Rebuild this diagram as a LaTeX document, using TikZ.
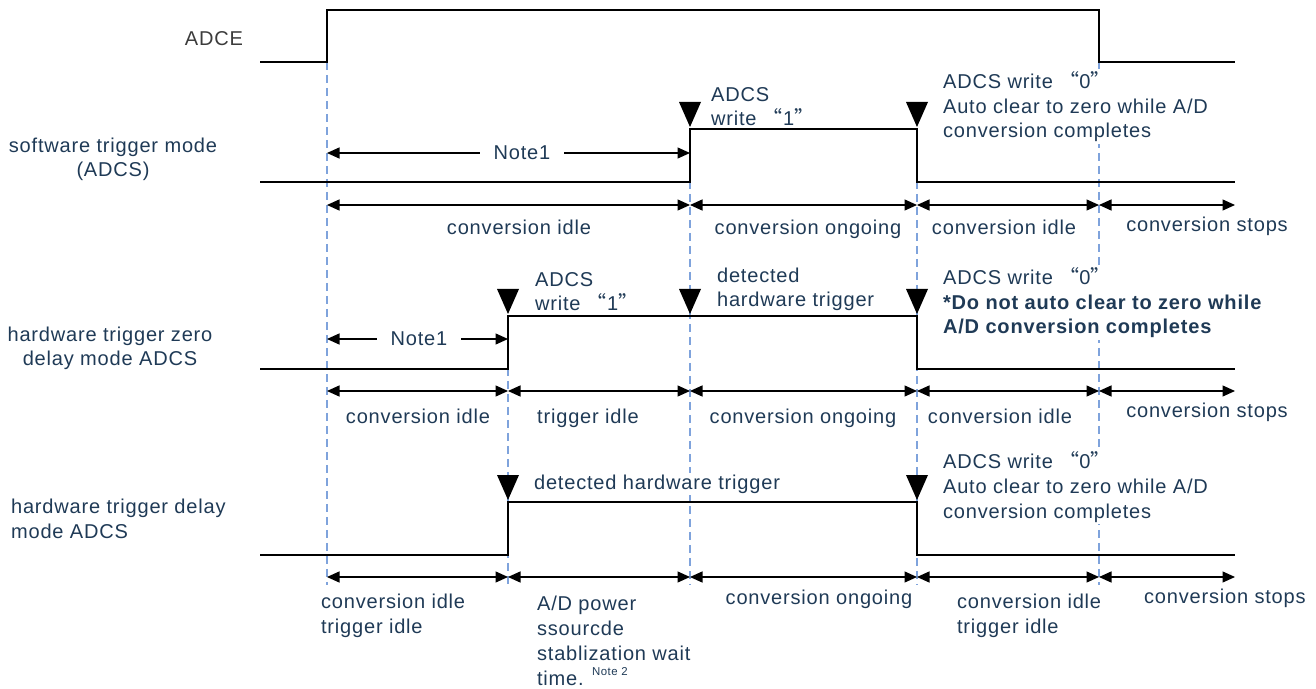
\documentclass[tikz,border=0pt]{standalone}
\usepackage{fontspec}
\setmainfont{Liberation Sans}[LetterSpace=4]
\newfontfamily\cjk{Noto Sans CJK SC}
\usetikzlibrary{arrows.meta}
\definecolor{ink}{HTML}{1F3A56}
\definecolor{guide}{HTML}{7FA3DC}
\definecolor{tag}{HTML}{3C3C3C}
\newcommand{\quoted}[1]{{\cjk “}#1{\cjk ”}}

\begin{document}
\begin{tikzpicture}[x=0.02cm, y=-0.02cm,
    >={Triangle[length=0.25cm,width=0.22cm]},
    sig/.style={line width=1.4pt, black},
    guideline/.style={guide, line width=0.6pt, dash pattern=on 0.16cm off 0.1cm},
    span/.style={line width=0.7pt, <->},
    lbl/.style={text=ink, font=\fontsize{11.4pt}{14.2pt}\selectfont, inner sep=1pt},
    note/.style={lbl, align=left, anchor=base west, fill=white},
    marker/.style={fill=black},
]
\useasboundingbox (0,0) rectangle (1316,689);

% guide lines
\draw[guideline] (327,62) -- (327,585);
\draw[guideline] (508,316) -- (508,585);
\draw[guideline] (690,129) -- (690,585);
\draw[guideline] (917,129) -- (917,585);
\draw[guideline] (1099,62) -- (1099,585);

% signal names (multi-line nodes sit on their last baseline)
\node[lbl, text=tag, anchor=base east] (adce) at (245,46) {ADCE};
\node[lbl, align=center, anchor=base] (swname) at (113,177) {software trigger mode\\(ADCS)};
\node[lbl, align=center, anchor=base] (hwzname) at (110,366) {hardware trigger zero\\delay mode ADCS};
\node[lbl, align=left, anchor=base west] (hwdname) at (9,538) {hardware trigger delay\\mode ADCS};

% waveforms
\draw[sig] (260,62) -- (327,62) -- (327,10) -- (1099,10) -- (1099,62) -- (1235,62);
\draw[sig] (260,182) -- (690,182) -- (690,129) -- (917,129) -- (917,182) -- (1235,182);
\draw[sig] (260,369) -- (508,369) -- (508,316) -- (917,316) -- (917,369) -- (1235,369);
\draw[sig] (260,555) -- (508,555) -- (508,502) -- (917,502) -- (917,555) -- (1235,555);

% event markers
\foreach \x/\y in {690/129, 917/129, 508/316, 690/316, 917/316, 508/502, 917/502}
  \fill[marker] (\x-11,\y-27) -- (\x+11,\y-27) -- (\x,\y-2) -- cycle;

% software trigger mode
\node[note] (swset) at (709,126) {ADCS\\write \quoted{1}};
\node[note] (swclr) at (941,138) {ADCS write \quoted{0}\\Auto clear to zero while A/D\\conversion completes};
\draw[span] (327,153) -- (690,153);
\node[lbl, fill=white, inner xsep=8pt] (swnote) at (522,153) {Note1};
\foreach \a/\b in {327/690, 690/917, 917/1099, 1099/1235}
  \draw[span] (\a,205) -- (\b,205);
\node[lbl, anchor=base] (swidle) at (519,235) {conversion idle};
\node[lbl, anchor=base] (swrun) at (808,235) {conversion ongoing};
\node[lbl, anchor=base] (swidleb) at (1004,235) {conversion idle};
\node[lbl, anchor=base] (swstop) at (1207,232) {conversion stops};

% hardware trigger zero delay mode
\node[note] (hwzset) at (533,311) {ADCS\\write \quoted{1}};
\node[note] (hwzdet) at (715,307) {detected\\hardware trigger};
\node[note] (hwzclr) at (941,334) {ADCS write \quoted{0}\\\textbf{*Do not auto clear to zero while}\\\textbf{A/D conversion completes}};
\draw[span] (327,339) -- (508,339);
\node[lbl, fill=white, inner xsep=8pt] (hwznote) at (419,339) {Note1};
\foreach \a/\b in {327/508, 508/690, 690/917, 917/1099, 1099/1235}
  \draw[span] (\a,391) -- (\b,391);
\node[lbl, anchor=base] (hwzidle) at (418,423) {conversion idle};
\node[lbl, anchor=base] (hwzwait) at (588,423) {trigger idle};
\node[lbl, anchor=base] (hwzrun) at (803,423) {conversion ongoing};
\node[lbl, anchor=base] (hwzidleb) at (1000,423) {conversion idle};
\node[lbl, anchor=base] (hwzstop) at (1207,418) {conversion stops};

% hardware trigger delay mode
\node[note] (hwddet) at (532,489) {detected hardware trigger};
\node[note] (hwdclr) at (941,518) {ADCS write \quoted{0}\\Auto clear to zero while A/D\\conversion completes};
\foreach \a/\b in {327/508, 508/690, 690/917, 917/1099, 1099/1235}
  \draw[span] (\a,577) -- (\b,577);
\node[note, fill=none] (hwdidle) at (319,633) {conversion idle\\trigger idle};
\node[note, fill=none] (hwdwait) at (535,685) {A/D power\\ssourcde\\stablization wait\\time. \raisebox{0.9ex}{\fontsize{6.5pt}{7pt}\selectfont Note 2}};
\node[lbl, anchor=base] (hwdrun) at (819,604) {conversion ongoing};
\node[note, fill=none] (hwdidleb) at (955,633) {conversion idle\\trigger idle};
\node[lbl, anchor=base west] (hwdstop) at (1142,603) {conversion stops};
\end{tikzpicture}
\end{document}
